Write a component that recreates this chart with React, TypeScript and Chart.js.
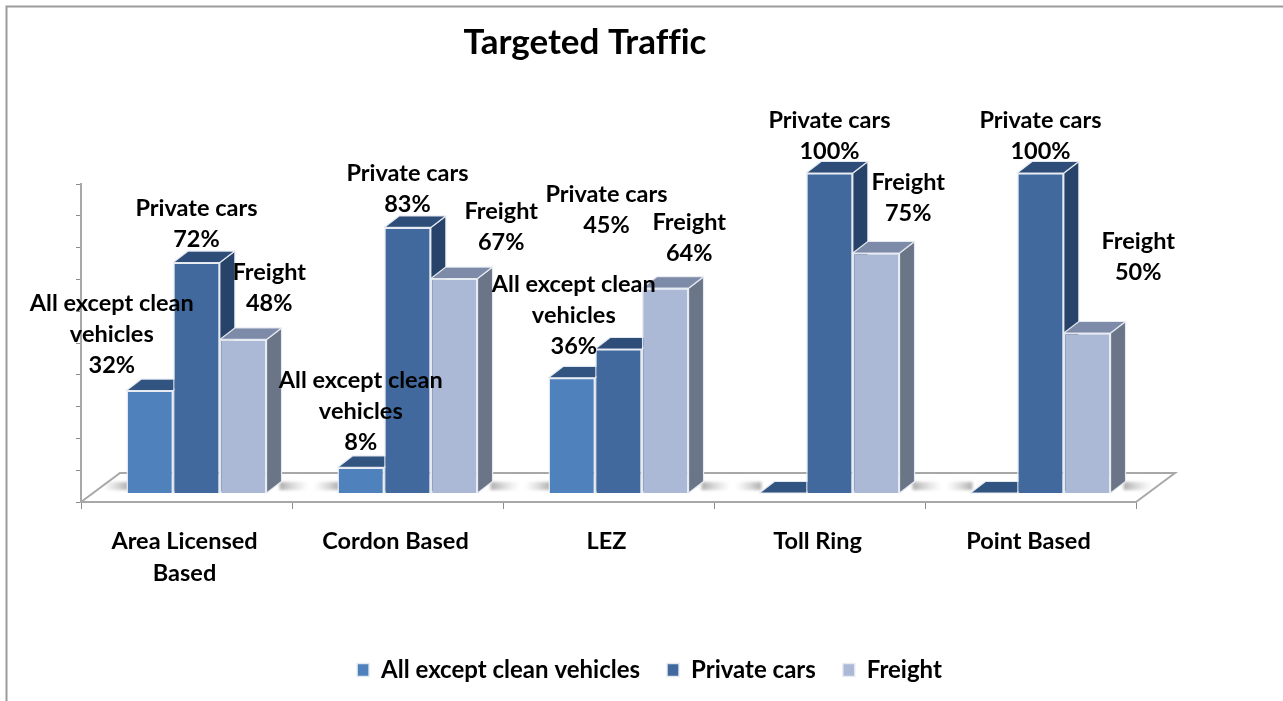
import React, { useEffect, useRef } from "react";
import { Chart, registerables } from "chart.js";

Chart.register(...registerables);

const chartTitle = "Targeted Traffic";
const categories: (string | string[])[] = [["Area Licensed", "Based"], "Cordon Based", "LEZ", "Toll Ring", "Point Based"];
const seriesNames = ["All except clean vehicles", "Private cars", "Freight"];
const seriesLabelLines = [["All except clean", "vehicles"], ["Private cars"], ["Freight"]];
const allExceptClean = [32, 8, 36, 0, 0];
const privateCars = [72, 83, 45, 100, 100];
const freight = [48, 67, 64, 75, 50];
const seriesValues = [allExceptClean, privateCars, freight];

const frontColors = ["#4f81bd", "#41699d", "#abb9d7"];
const topColors = ["#325480", "#2e4d78", "#7d8aa8"];
const sideColors = ["#2c4d7a", "#28436a", "#6b7588"];

// label anchor shift from the bar's top-centre: [dx, dy of last line]
const allLabelShift = [[-38, -25], [0, -25], [2, -31], [0, 0], [0, 0]];
const privateLabelShift = [[0, -23], [0, -23], [-12, -124], [0, -22], [0, -22]];
const freightLabelShift = [[26, -36], [47, -36], [24, -35], [32, -40], [51, -61]];
const labelShifts = [allLabelShift, privateLabelShift, freightLabelShift];

const FONT = "Lato, Carlito, 'Open Sans', sans-serif";
const DEPTH_X = 15;
const DEPTH_Y = 11.5;

const place = (s: any, left: number, right: number, top: number, bottom: number) => {
  s.left = left; s.right = right; s.top = top; s.bottom = bottom;
  s.width = right - left; s.height = bottom - top;
  s.configure();
};

const layoutPlugin = {
  id: "fixedLayout",
  afterLayout(chart: any) {
    const a = chart.chartArea;
    a.left = 81; a.right = 1136; a.top = 184; a.bottom = 502;
    a.width = 1055; a.height = 318;
    place(chart.scales.x, 81, 1136, 502, 600);
    place(chart.scales.y, 76, 81, 184, 502);
    place(chart.scales.xBars, 91, 1146, 173, 493);
    place(chart.scales.yBars, 91, 1146, 173, 493);
    const t = chart.titleBlock;
    t.left = 0; t.right = 1170; t.top = 22; t.width = 1170;
    const l = chart.legend;
    l.left = 0; l.right = 1299; l.top = 631; l.width = 1299;
  },
  beforeDraw(chart: any) {
    chart.ctx.textRendering = "optimizeSpeed";
  },
};

const poly = (ctx: CanvasRenderingContext2D, pts: number[][], fill: string) => {
  ctx.beginPath();
  pts.forEach((p, i) => (i ? ctx.lineTo(p[0], p[1]) : ctx.moveTo(p[0], p[1])));
  ctx.closePath();
  ctx.fillStyle = fill;
  ctx.fill();
  ctx.lineWidth = 1.2;
  ctx.strokeStyle = "rgba(232,236,242,0.95)";
  ctx.lineJoin = "round";
  ctx.stroke();
};

const shadow = (ctx: CanvasRenderingContext2D, x0: number, x1: number, y: number) => {
  const g = ctx.createLinearGradient(x0, 0, x1, 0);
  g.addColorStop(0, "rgba(105,105,105,0.55)");
  g.addColorStop(1, "rgba(160,160,160,0)");
  ctx.save();
  ctx.filter = "blur(1.5px)";
  ctx.fillStyle = g;
  const h = 4;
  ctx.fillRect(Math.min(x0, x1), y - h, Math.abs(x1 - x0), h * 2);
  ctx.restore();
};

const depthPlugin = {
  id: "depth3d",
  beforeDatasetsDraw(chart: any) {
    const { ctx, chartArea: a } = chart;
    ctx.save();
    // frame of the slide
    ctx.strokeStyle = "#9c9c9c";
    ctx.lineWidth = 2;
    ctx.beginPath();
    ctx.moveTo(6.5, 701);
    ctx.lineTo(6.5, 6.5);
    ctx.lineTo(1283, 6.5);
    ctx.stroke();
    // floor
    ctx.strokeStyle = "#a8a8a8";
    ctx.lineWidth = 2;
    ctx.beginPath();
    ctx.moveTo(a.left, a.bottom);
    ctx.lineTo(a.left + 39, a.bottom - 29);
    ctx.lineTo(a.right + 39, a.bottom - 29);
    ctx.lineTo(a.right, a.bottom);
    ctx.stroke();
    const metas = [0, 1, 2].map((i) => chart.getDatasetMeta(i));
    categories.forEach((_, c) => {
      const first = metas[0].data[c];
      const last = metas[2].data[c];
      const y = first.base - 7;
      shadow(ctx, first.x - first.width / 2 + 2, first.x - first.width / 2 - 24, y);
      shadow(ctx, last.x + last.width / 2 + 13, last.x + last.width / 2 + 42, y);
      metas.forEach((m, s) => {
        const b = m.data[c];
        const l = b.x - b.width / 2;
        const r = b.x + b.width / 2;
        if (b.base - b.y > 0.5) {
          poly(ctx, [[r, b.y], [r + DEPTH_X, b.y - DEPTH_Y], [r + DEPTH_X, b.base - DEPTH_Y], [r, b.base]], sideColors[s]);
        }
        poly(ctx, [[l, b.y], [l + DEPTH_X, b.y - DEPTH_Y], [r + DEPTH_X, b.y - DEPTH_Y], [r, b.y]], topColors[s]);
      });
    });
    ctx.restore();
  },
};

const labelPlugin = {
  id: "barLabels",
  afterDatasetsDraw(chart: any) {
    const { ctx } = chart;
    ctx.save();
    ctx.font = `bold 23.5px ${FONT}`;
    ctx.fillStyle = "#000";
    ctx.textAlign = "center";
    ctx.textBaseline = "middle";
    seriesValues.forEach((vals, s) => {
      const meta = chart.getDatasetMeta(s);
      vals.forEach((v, c) => {
        if (!v) return;
        const b = meta.data[c];
        const [dx, dy] = labelShifts[s][c];
        const lines = [...seriesLabelLines[s], `${v}%`];
        lines.forEach((line, i) => {
          ctx.fillText(line, b.x + dx, b.y + dy - (lines.length - 1 - i) * 31);
        });
      });
    });
    ctx.restore();
  },
};

export default function App() {
  const ref = useRef<HTMLCanvasElement>(null);
  useEffect(() => {
    const chart = new Chart(ref.current as HTMLCanvasElement, {
      type: "bar",
      data: {
        labels: categories as any,
        datasets: seriesValues.map((data, s) => ({
          label: seriesNames[s],
          data,
          xAxisID: "xBars",
          yAxisID: "yBars",
          clip: false as any,
          backgroundColor: frontColors[s],
          borderColor: "rgba(232,236,242,0.95)",
          borderWidth: 1.5,
          categoryPercentage: 0.664,
          barPercentage: 1,
        })),
      },
      options: {
        responsive: false,
        animation: false,
        devicePixelRatio: 1,
        plugins: {
          title: {
            display: true,
            text: chartTitle,
            color: "#000",
            padding: 0,
            font: { family: FONT, size: 35, weight: "bold" },
          },
          legend: {
            position: "bottom",
            labels: {
              boxWidth: 12,
              boxHeight: 13,
              padding: 27,
              color: "#000",
              font: { family: FONT, size: 24, weight: "bold" },
            },
          },
          tooltip: { enabled: false },
        },
        scales: {
          x: {
            type: "category",
            position: "bottom",
            offset: true,
            grid: { offset: true, drawOnChartArea: false, drawTicks: true, tickLength: 7, color: "#8c8c8c" },
            border: { color: "#a8a8a8", width: 2 },
            ticks: {
              autoSkip: false,
              maxRotation: 0,
              padding: 16,
              labelOffset: -2,
              color: "#000",
              font: { family: FONT, size: 23.5, weight: "bold", lineHeight: 32 / 23.5 },
            },
          },
          y: {
            type: "linear",
            position: "left",
            min: 0,
            max: 100,
            ticks: { display: false, stepSize: 10 },
            grid: { drawOnChartArea: false, drawTicks: true, tickLength: 5, color: "#8c8c8c" },
            border: { color: "#a8a8a8", width: 2 },
          },
          xBars: { type: "category", display: false, offset: true, grid: { offset: true } },
          yBars: { type: "linear", display: false, min: 0, max: 100 },
        },
      } as any,
      plugins: [layoutPlugin, depthPlugin, labelPlugin],
    });
    return () => chart.destroy();
  }, []);
  return (
    <div style={{ position: "fixed", left: 0, top: 0, width: 1283, height: 701, background: "#fff" }}>
      <canvas ref={ref} width={1283} height={701} style={{ display: "block" }} />
    </div>
  );
}
